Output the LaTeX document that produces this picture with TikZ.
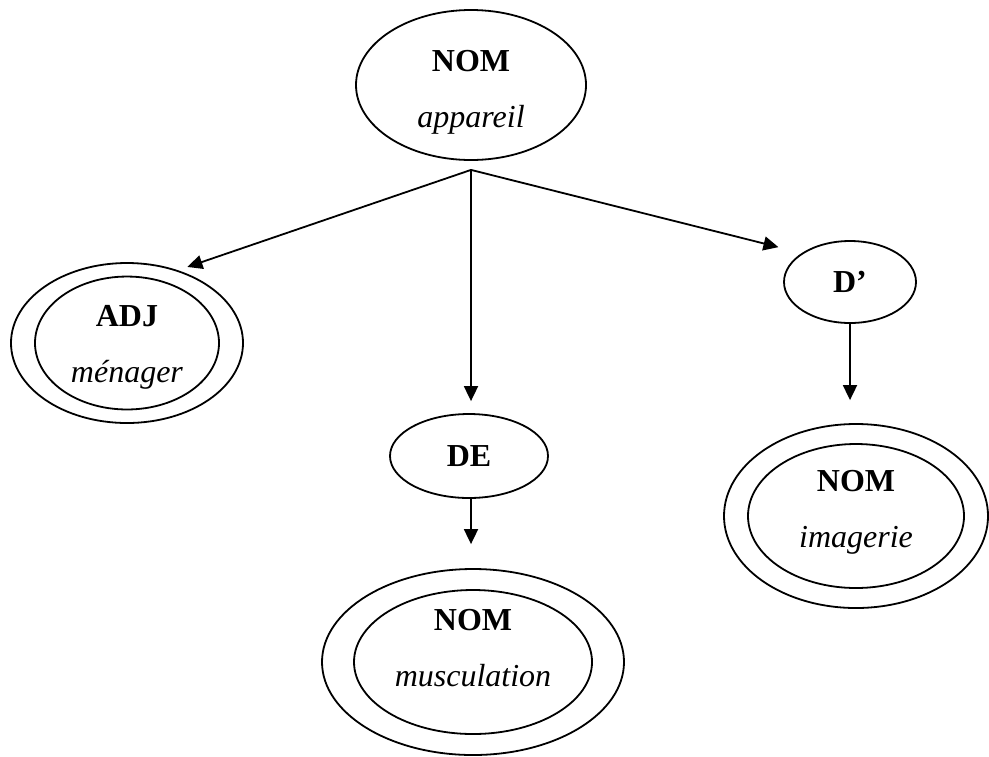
\documentclass[tikz,border=0pt]{standalone}
\usepackage{fontspec}
\setmainfont{Liberation Serif}
\usepackage{tikz}
\usetikzlibrary{shapes,arrows.meta}

% category over word, #1 lifts the text inside its ellipse
\newcommand{\wtext}[3][0pt]{\raisebox{0pt}[\dimexpr\height-#1\relax][\dimexpr\depth+#1\relax]{\begin{tabular}{@{}c@{}}\textbf{#2}\\[9pt]\textit{#3}\end{tabular}}}

\begin{document}
\begin{tikzpicture}[x=0.5pt,y=-0.5pt,
	every node/.style={font=\fontsize{16}{19}\selectfont},
	word/.style={ellipse,draw,line width=0.9pt,inner sep=0pt,align=center},
	arr/.style={-{Triangle[length=7.5pt,width=7pt]},line width=0.9pt}]
\useasboundingbox (0,0) rectangle (989,756);
% head noun
\node [word,minimum width=115pt,minimum height=75pt] (app) at (471,85) {\wtext[-3.5pt]{NOM}{appareil}};
\coordinate (fork) at ([yshift=-4.5pt]app.south);
% adjective
\node [word,minimum width=116pt,minimum height=80pt] (adj-out) at (127,343) {};
\node [word,minimum width=92pt,minimum height=63pt] (adj) at (127,343) {\wtext[-2pt]{ADJ}{ménager}};
% de + noun
\node [word,minimum width=79pt,minimum height=42pt] (de) at (469,456) {\textbf{DE}};
\node [word,minimum width=151pt,minimum height=93pt] (musc-out) at (473,662) {};
\node [word,minimum width=119pt,minimum height=72pt] (musc) at (473,662) {\wtext[5.5pt]{NOM}{musculation}};
% d' + noun
\node [word,minimum width=66pt,minimum height=41pt] (dp) at (850,282) {\textbf{D’}};
\node [word,minimum width=132pt,minimum height=92pt] (img-out) at (856,516) {};
\node [word,minimum width=108pt,minimum height=72pt] (img) at (856,516) {\wtext[2pt]{NOM}{imagerie}};
% arrows
\draw [arr,shorten >=5pt] (fork) -- (adj-out.55);
\draw [arr,shorten >=6pt] (fork) -- (fork |- de.north);
\draw [arr,shorten >=12pt] (fork) -- (dp.149);
\draw [arr,shorten >=12pt] (de.south -| fork) -- (fork |- musc-out.north);
\draw [arr,shorten >=11.5pt] (dp.south) -- (dp.south |- img-out.north);
\end{tikzpicture}
\end{document}
